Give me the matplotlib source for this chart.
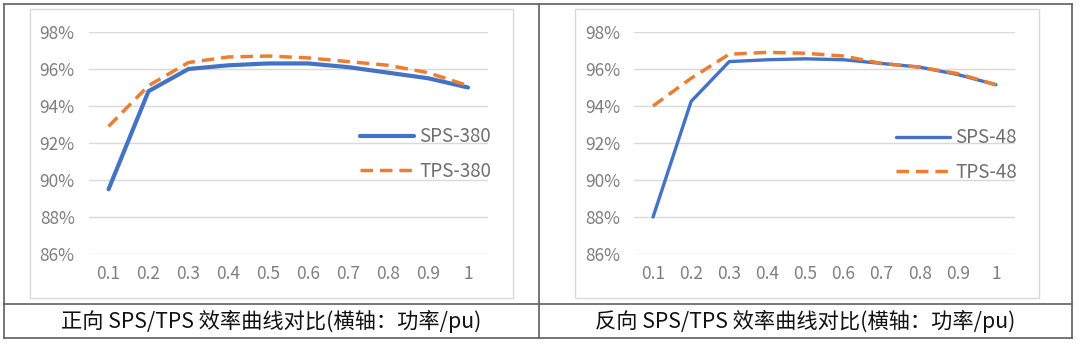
import matplotlib.pyplot as plt
from matplotlib.patches import Rectangle
from matplotlib.lines import Line2D
from matplotlib.ticker import FuncFormatter

plt.rcParams['font.family'] = ['Noto Sans CJK SC', 'DejaVu Sans']

# per-unit power (category axis)
power = ['0.1', '0.2', '0.3', '0.4', '0.5', '0.6', '0.7', '0.8', '0.9', '1']

# forward efficiency, %
sps_380 = [89.5, 94.8, 96.0, 96.2, 96.3, 96.3, 96.1, 95.8, 95.5, 95.0]
tps_380 = [92.9, 95.1, 96.35, 96.65, 96.7, 96.6, 96.4, 96.2, 95.8, 95.1]

# reverse efficiency, %
sps_48 = [88.0, 94.25, 96.4, 96.5, 96.55, 96.5, 96.3, 96.1, 95.7, 95.15]
tps_48 = [94.0, 95.5, 96.8, 96.9, 96.85, 96.7, 96.3, 96.1, 95.75, 95.15]

captions = ['正向 SPS/TPS 效率曲线对比(横轴：功率/pu)',
            '反向 SPS/TPS 效率曲线对比(横轴：功率/pu)']

W, H = 1080, 344
BLUE = '#4472C4'
ORANGE = '#ED7D31'
GRID = '#d9d9d9'
TXT = '#7f7f7f'

fig = plt.figure(figsize=(W / 100, H / 100), dpi=100)
fig.patch.set_facecolor('white')


def px_box(x0, y0, x1, y1):
    # pixel box (top-left origin) -> figure fraction rect
    return [x0 / W, 1 - y1 / H, (x1 - x0) / W, (y1 - y0) / H]


def draw_chart(rect, sps, tps, names, sps_lw, leg_xy):
    ax = fig.add_axes(rect)
    x = list(range(len(power)))
    ax.plot(x, sps, color=BLUE, lw=sps_lw, solid_capstyle='round',
            solid_joinstyle='round', label=names[0])
    ax.plot(x, tps, color=ORANGE, lw=2.5, linestyle=(0, (3.6, 2.0)),
            label=names[1])
    ax.set_xlim(-0.5, len(power) - 0.5)
    ax.set_ylim(86, 98)
    ax.set_yticks(range(86, 99, 2))
    ax.yaxis.set_major_formatter(FuncFormatter(lambda v, p: f'{v:.0f}%'))
    ax.set_xticks(x)
    ax.set_xticklabels(power)
    ax.grid(axis='y', color=GRID, lw=1)
    ax.set_axisbelow(True)
    for s in ax.spines.values():
        s.set_visible(False)
    ax.tick_params(length=0, labelsize=12.5, colors=TXT)
    ax.tick_params(axis='y', pad=10)
    ax.tick_params(axis='x', pad=8)
    ax.legend(loc='center left', bbox_to_anchor=(leg_xy[0] / W, 1 - leg_xy[1] / H),
              bbox_transform=fig.transFigure, frameon=False, fontsize=13.5,
              handlelength=2.9, handletextpad=0.25, labelspacing=0.7,
              borderpad=0, borderaxespad=0, labelcolor='#6f6f6f')
    return ax


draw_chart(px_box(88.6, 32, 488, 254), sps_380, tps_380,
           ['SPS-380', 'TPS-380'], 3.0, (360, 154))
draw_chart(px_box(634, 32, 1015, 254), sps_48, tps_48,
           ['SPS-48', 'TPS-48'], 2.4, (896, 155))

# chart area frames
for x0, x1 in [(30, 513), (575, 1039)]:
    fig.patches.append(Rectangle((x0 / W, 1 - 298 / H), (x1 - x0) / W, 289 / H,
                                 transform=fig.transFigure, fill=False,
                                 edgecolor=GRID, lw=1))

# table borders
bc = '#5f5f5f'
for xv in [4, 539, 1072]:
    fig.lines.append(Line2D([xv / W, xv / W], [1 - 3.5 / H, 1 - 338 / H],
                            transform=fig.transFigure, color=bc, lw=1.2))
for yv in [3.5, 304, 338]:
    fig.lines.append(Line2D([4 / W, 1072 / W], [1 - yv / H, 1 - yv / H],
                            transform=fig.transFigure, color=bc, lw=1.2))

# captions
for cx, cap in zip([271.5, 805.5], captions):
    fig.text(cx / W, 1 - 321 / H, cap, ha='center', va='center',
             fontsize=15.3, color='#111111')

fig.savefig('out.png', dpi=100, facecolor='white')
